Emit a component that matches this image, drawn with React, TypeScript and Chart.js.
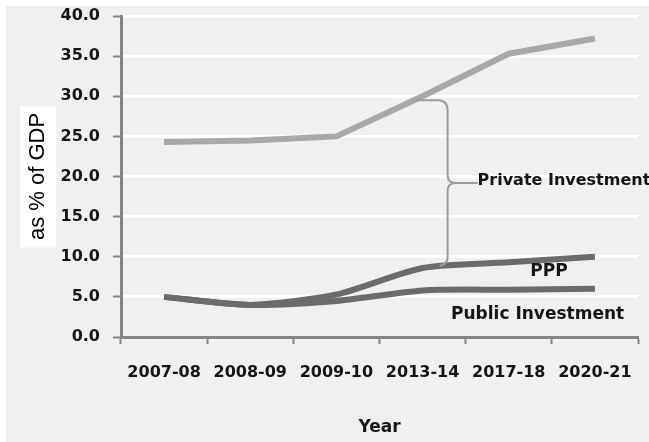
import React, { useEffect, useRef } from "react";
import { Chart, registerables } from "chart.js";

Chart.register(...registerables);

const CATEGORIES = ["2007-08", "2008-09", "2009-10", "2013-14", "2017-18", "2020-21"];
const PRIVATE_INV = [24.3, 24.5, 25.0, 30.0, 35.3, 37.2];
const PPP_INV = [5.0, 4.0, 5.3, 8.6, 9.3, 10.0];
const PUBLIC_INV = [5.0, 4.0, 4.5, 5.8, 5.9, 6.0];
const Y_MIN = 0;
const Y_MAX = 40;
const Y_STEP = 5;

// annotation anchors (category index / value units)
const BRACE_X = 3.29;
const BRACE_TOP = 29.5;
const BRACE_MID = 19.2;
const BRACE_BOTTOM = 9.1;
const PPP_LABEL_AT = { x: 4.25, y: 8.1, text: "PPP" };
const PUBLIC_LABEL_AT = { x: 3.33, y: 2.75, text: "Public Investment" };
const PRIVATE_LABEL = "Private Investment";

const LABEL_FONT = "bold 16px 'DejaVu Sans'";
const ANNOT_FONT = "bold 17px 'DejaVu Sans'";

const decor = {
  id: "decor",
  beforeDraw(chart: any) {
    const { ctx, width, height, chartArea, scales } = chart;
    ctx.save();
    ctx.fillStyle = "#ffffff";
    ctx.fillRect(0, 0, width, height);
    ctx.fillStyle = "#f0f0f0";
    ctx.fillRect(6, 6, width - 6, height - 6);
    const ys = scales.y;
    const cx = ys.left + 25 + 13.2;
    const cy = (chartArea.top + chartArea.bottom) / 2;
    ctx.fillStyle = "#ffffff";
    ctx.fillRect(cx - 18, cy - 70, 36, 141);
    ctx.restore();
  },
  afterDatasetsDraw(chart: any) {
    const { ctx, scales } = chart;
    const xs = scales.x;
    const ys = scales.y;
    const xAt = (v: number) => {
      const i = Math.floor(v);
      const a = xs.getPixelForValue(i);
      const b = xs.getPixelForValue(i + 1);
      return a + (b - a) * (v - i);
    };
    const bx = xAt(BRACE_X);
    const yT = ys.getPixelForValue(BRACE_TOP);
    const yM = ys.getPixelForValue(BRACE_MID);
    const yB = ys.getPixelForValue(BRACE_BOTTOM);
    ctx.save();
    ctx.strokeStyle = "#9c9c9c";
    ctx.lineWidth = 2;
    ctx.beginPath();
    ctx.moveTo(bx - 34, yT);
    ctx.lineTo(bx - 10, yT);
    ctx.quadraticCurveTo(bx, yT, bx, yT + 10);
    ctx.lineTo(bx, yM - 8);
    ctx.quadraticCurveTo(bx, yM, bx + 8, yM);
    ctx.quadraticCurveTo(bx, yM, bx, yM + 8);
    ctx.lineTo(bx, yB - 6);
    ctx.quadraticCurveTo(bx, yB, bx - 8, yB + 2);
    ctx.moveTo(bx + 8, yM);
    ctx.lineTo(bx + 30, yM);
    ctx.stroke();

    ctx.fillStyle = "#151515";
    ctx.textBaseline = "middle";
    ctx.textAlign = "left";
    ctx.font = LABEL_FONT;
    ctx.fillText(PRIVATE_LABEL, bx + 30, yM - 2);
    ctx.font = ANNOT_FONT;
    ctx.fillText(PPP_LABEL_AT.text, xAt(PPP_LABEL_AT.x), ys.getPixelForValue(PPP_LABEL_AT.y));
    ctx.fillText(PUBLIC_LABEL_AT.text, xAt(PUBLIC_LABEL_AT.x), ys.getPixelForValue(PUBLIC_LABEL_AT.y));
    ctx.restore();
  },
};

export default function App() {
  const ref = useRef<HTMLCanvasElement | null>(null);
  useEffect(() => {
    document.body.style.margin = "0";
    const canvas = ref.current;
    if (!canvas) return;
    const chart = new Chart(canvas, {
      type: "line",
      data: {
        labels: CATEGORIES,
        datasets: [
          {
            label: "Public Investment",
            data: PUBLIC_INV,
            borderColor: "#6b6b6b",
            borderWidth: 6,
            pointRadius: 0,
            tension: 0.25,
            fill: false,
          },
          {
            label: "PPP",
            data: PPP_INV,
            borderColor: "#6b6b6b",
            borderWidth: 6,
            pointRadius: 0,
            tension: 0.25,
            fill: false,
          },
          {
            label: "Private Investment",
            data: PRIVATE_INV,
            borderColor: "#a8a8a8",
            borderWidth: 6,
            pointRadius: 0,
            tension: 0,
            fill: false,
          },
        ],
      },
      options: {
        animation: false,
        responsive: false,
        maintainAspectRatio: false,
        layout: { padding: { top: 16, right: 11, left: 0, bottom: 0 } },
        plugins: {
          legend: { display: false },
          tooltip: { enabled: false },
          title: { display: false },
        },
        scales: {
          x: {
            type: "category",
            offset: true,
            grid: {
              offset: true,
              drawOnChartArea: false,
              tickColor: "#858585",
              tickLength: 7,
              tickWidth: 2,
            },
            border: { color: "#858585", width: 3 },
            ticks: {
              color: "#151515",
              font: { family: "'DejaVu Sans'", size: 16, weight: "bold" },
              padding: 19,
              maxRotation: 0,
              autoSkip: false,
            },
            title: {
              display: true,
              text: "Year",
              color: "#151515",
              font: { family: "'DejaVu Sans'", size: 17, weight: "bold" },
              padding: { top: 0, bottom: 4 },
            },
            afterFit(scale: any) {
              scale.height = 105;
              scale.paddingLeft = 0;
              scale.paddingRight = 0;
            },
          },
          y: {
            min: Y_MIN,
            max: Y_MAX,
            ticks: {
              stepSize: Y_STEP,
              color: "#151515",
              font: { family: "'DejaVu Sans'", size: 16, weight: "bold" },
              padding: 13,
              callback: (v: any) => Number(v).toFixed(1),
            },
            grid: {
              color: "#ffffff",
              lineWidth: 3,
              tickColor: "#858585",
              tickLength: 8,
              tickWidth: 2,
            },
            border: { color: "#858585", width: 3 },
            title: {
              display: true,
              text: "as % of GDP",
              color: "#000000",
              font: { family: "'Liberation Sans'", size: 22, weight: "normal" },
              padding: { top: 25, bottom: 0 },
            },
            afterFit(scale: any) {
              scale.width = 121;
              scale.paddingTop = 0;
              scale.paddingBottom = 0;
            },
          },
        },
      },
      plugins: [decor],
    });
    return () => chart.destroy();
  }, []);
  return <canvas ref={ref} width={649} height={442} style={{ display: "block" }} />;
}
